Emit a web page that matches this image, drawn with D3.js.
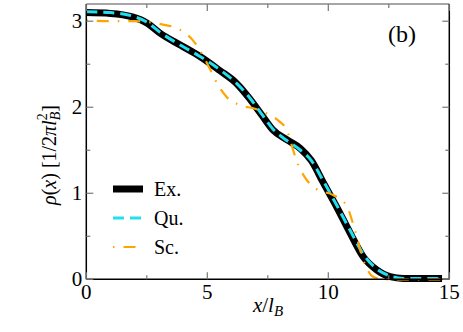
<!doctype html>
<html>
<head>
<meta charset="utf-8">
<title>rho(x)</title>
<script src="https://cdnjs.cloudflare.com/ajax/libs/d3/7.8.5/d3.min.js"></script>
<style>
  body { margin: 0; background: #fff; }
</style>
</head>
<body>
<div id="chart"></div>
<script>
// data
const exX = [0, 1.0, 1.9, 2.5, 3.05, 3.9, 4.7, 5.5, 6.2, 6.75, 7.25, 7.7, 8.3, 8.85, 9.3, 9.8, 10.35, 10.9, 11.45, 12.0, 12.55, 13.1, 14.7];
const exY = [3.10, 3.09, 3.05, 2.98, 2.86, 2.72, 2.59, 2.43, 2.28, 2.10, 1.91, 1.74, 1.62, 1.52, 1.38, 1.12, 0.84, 0.54, 0.26, 0.11, 0.03, 0.01, 0.01];

const quX = [0, 1.0, 1.9, 2.5, 3.05, 3.9, 4.7, 5.5, 6.2, 6.75, 7.25, 7.7, 8.3, 8.85, 9.3, 9.8, 10.35, 10.9, 11.45, 12.0, 12.55, 13.1, 14.7];
const quY = [3.11, 3.10, 3.06, 2.99, 2.87, 2.72, 2.59, 2.44, 2.28, 2.11, 1.92, 1.75, 1.61, 1.50, 1.38, 1.14, 0.86, 0.57, 0.29, 0.12, 0.04, 0.01, 0.01];

const scX = [0, 1, 2, 3, 3.87, 4.4, 4.8, 5.1, 5.4, 5.8, 6.3, 7.0, 7.5, 8.0, 8.28, 8.55, 8.7, 9.0, 9.5, 10.2, 10.75, 11.1, 11.45, 11.85, 12.3, 14.7];
const scY = [3.01, 3.0, 3.0, 2.97, 2.90, 2.78, 2.61, 2.45, 2.28, 2.12, 2.03, 1.98, 1.92, 1.83, 1.74, 1.50, 1.37, 1.20, 1.05, 0.98, 0.86, 0.57, 0.22, 0.03, 0.0, 0.0];

const xTicks = [0, 5, 10, 15];
const xMinor = [2.5, 7.5, 12.5];
const yTicks = [0, 1, 2, 3];
const yMinor = [0.5, 1.5, 2.5];

const series = [
  { name: 'Ex.', xs: exX, ys: exY, color: '#000', width: 7, dash: null },
  { name: 'Qu.', xs: quX, ys: quY, color: '#22dff0', width: 3, dash: '11,6' },
  { name: 'Sc.', xs: scX, ys: scY, color: '#ffa500', width: 2.2, dash: '1.5,9,12,9' }
];

const W = 463, H = 332;
const pL = 86.3, pR = 449.3, pT = 4, pB = 279.3;

const svg = d3.select('#chart').append('svg')
  .attr('width', W).attr('height', H)
  .attr('font-family', '"Liberation Serif", "Times New Roman", "DejaVu Serif", serif');

const x = d3.scaleLinear().domain([0, 15]).range([pL, pR]);
const y = d3.scaleLinear().domain([0, 3.2]).range([pB, pT]);

// curves
const line = d3.line()
  .x(d => x(d[0])).y(d => y(d[1]))
  .curve(d3.curveMonotoneX);

series.forEach(s => {
  const pts = s.xs.map((v, i) => [v, s.ys[i]]);
  svg.append('path')
    .attr('d', line(pts))
    .attr('fill', 'none')
    .attr('stroke', s.color)
    .attr('stroke-width', s.width)
    .attr('stroke-dasharray', s.dash)
    .attr('stroke-linejoin', 'round');
});

// frame
svg.append('line').attr('x1', pL).attr('x2', pR).attr('y1', pT).attr('y2', pT)
  .attr('stroke', '#888').attr('stroke-width', 1.5);
svg.append('line').attr('x1', pR).attr('x2', pR).attr('y1', pT).attr('y2', pB)
  .attr('stroke', '#000').attr('stroke-width', 1.5);
svg.append('line').attr('x1', pL).attr('x2', pR).attr('y1', pB).attr('y2', pB)
  .attr('stroke', '#000').attr('stroke-width', 1.5);
svg.append('line').attr('x1', pL).attr('x2', pL).attr('y1', pT).attr('y2', pB)
  .attr('stroke', '#000').attr('stroke-width', 1.5);

// ticks (inward, all four sides)
const tk = svg.append('g').attr('stroke', '#777').attr('stroke-width', 1.2);
xTicks.concat(xMinor).forEach(t => {
  const len = xTicks.includes(t) ? 7 : 4;
  tk.append('line').attr('x1', x(t)).attr('x2', x(t)).attr('y1', pB).attr('y2', pB - len);
  tk.append('line').attr('x1', x(t)).attr('x2', x(t)).attr('y1', pT).attr('y2', pT + len);
});
yTicks.concat(yMinor).forEach(t => {
  const len = yTicks.includes(t) ? 7 : 4;
  tk.append('line').attr('y1', y(t)).attr('y2', y(t)).attr('x1', pL).attr('x2', pL + len);
  tk.append('line').attr('y1', y(t)).attr('y2', y(t)).attr('x1', pR).attr('x2', pR - len);
});

// tick labels
svg.selectAll('.xl').data(xTicks).join('text')
  .attr('x', d => x(d)).attr('y', 299)
  .attr('text-anchor', 'middle').attr('font-size', 21)
  .text(d => d);
svg.selectAll('.yl').data(yTicks).join('text')
  .attr('x', pL - 4).attr('y', d => y(d) + 7)
  .attr('text-anchor', 'end').attr('font-size', 21)
  .text(d => d);

// axis titles
const xt = svg.append('text').attr('x', 268).attr('y', 312)
  .attr('text-anchor', 'middle').attr('font-size', 21);
xt.append('tspan').attr('font-style', 'italic').text('x');
xt.append('tspan').text('/');
xt.append('tspan').attr('font-style', 'italic').text('l');
xt.append('tspan').attr('font-style', 'italic').attr('font-size', 15).attr('dy', 4).text('B');

const yt = svg.append('text')
  .attr('transform', 'translate(56,155) rotate(-90)')
  .attr('text-anchor', 'middle').attr('font-size', 20);
yt.append('tspan').attr('font-style', 'italic').text('ρ');
yt.append('tspan').text('(');
yt.append('tspan').attr('font-style', 'italic').text('x');
yt.append('tspan').text(')  [1/2');
yt.append('tspan').attr('font-style', 'italic').text('π');
yt.append('tspan').attr('font-style', 'italic').text('l');
yt.append('tspan').attr('font-size', 14).attr('dy', -9).text('2');
yt.append('tspan').attr('font-style', 'italic').attr('font-size', 14).attr('dx', -7).attr('dy', 13).text('B');
yt.append('tspan').attr('dy', -4).text(']');

// panel label
svg.append('text').attr('x', 388).attr('y', 42).attr('font-size', 24).text('(b)');

// legend
const legY = [189, 218, 247];
series.forEach((s, i) => {
  svg.append('line')
    .attr('x1', 113).attr('x2', 143).attr('y1', legY[i]).attr('y2', legY[i])
    .attr('stroke', s.color).attr('stroke-width', s.width)
    .attr('stroke-dasharray', s.dash);
  svg.append('text').attr('x', 154).attr('y', legY[i] + 7)
    .attr('font-size', 20).text(s.name);
});
</script>
</body>
</html>
